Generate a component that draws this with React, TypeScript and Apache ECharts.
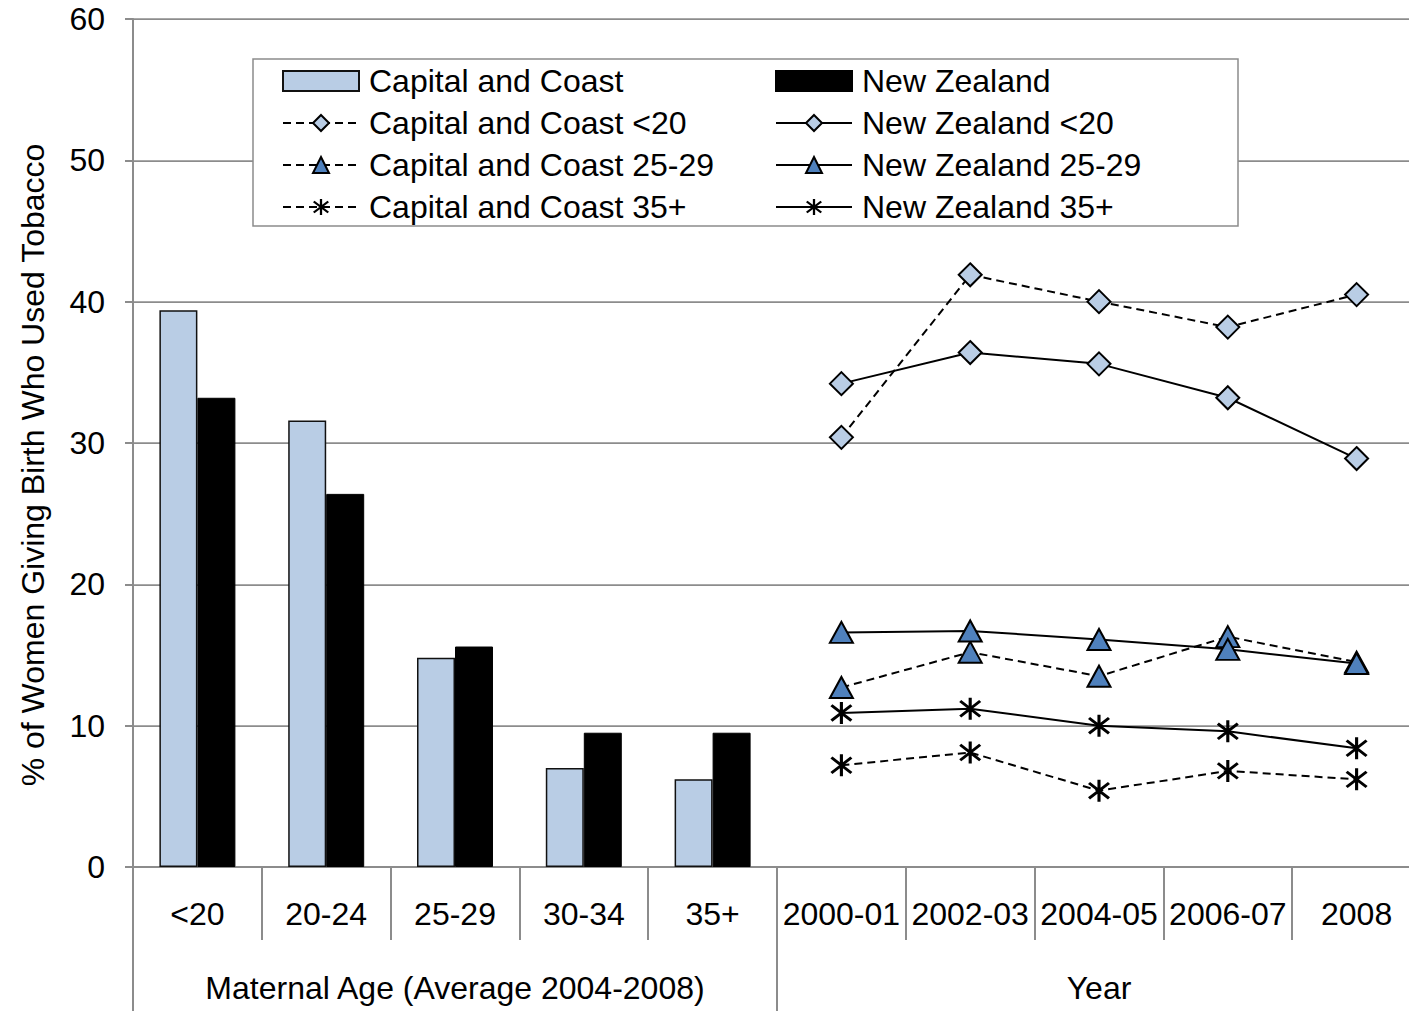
import React, { useEffect, useRef } from "react";
import * as echarts from "echarts";

// Category axis: maternal age groups (2004-2008 average) followed by year groups
const ageGroups = ["<20", "20-24", "25-29", "30-34", "35+"];
const yearGroups = ["2000-01", "2002-03", "2004-05", "2006-07", "2008"];
const categories = [...ageGroups, ...yearGroups];
const sectionLabels = ["Maternal Age (Average 2004-2008)", "Year"];

// Bars: % smoking by maternal age, average 2004-2008
const ccByAge = [39.4, 31.6, 14.8, 7.0, 6.2];
const nzByAge = [33.2, 26.4, 15.6, 9.5, 9.5];

// Lines: % smoking by year for selected age groups
const ccUnder20 = [30.4, 41.9, 40.0, 38.2, 40.5];
const nzUnder20 = [34.2, 36.4, 35.6, 33.2, 28.9];
const cc2529 = [12.7, 15.2, 13.5, 16.3, 14.5];
const nz2529 = [16.6, 16.7, 16.1, 15.4, 14.4];
const cc35plus = [7.2, 8.1, 5.4, 6.8, 6.2];
const nz35plus = [10.9, 11.2, 10.0, 9.6, 8.4];

const yTicks = { min: 0, max: 60, interval: 10 };

const FONT = "'Liberation Sans', Arial, sans-serif";
const GRID_GRAY = "#8c8c8c";
const LIGHT_BLUE = "#b9cde5";
const MID_BLUE = "#4f81bd";

// Plot runs slightly past the visible right edge, so the canvas is wider than the frame
const FRAME_W = 1409;
const FRAME_H = 1011;
const CANVAS_W = 1421;

// Six-armed asterisk marker: one vertical bar plus two diagonals
const asterisk =
  "path://M8.75 0L11.25 0L11.25 20L8.75 20Z M2.82 2.07L18.82 16.07L17.18 17.93L1.18 3.93Z M1.18 16.07L17.18 2.07L18.82 3.93L2.82 17.93Z";

const ageOnly = (vals: number[]) => [...vals, ...yearGroups.map(() => "-")];
const yearOnly = (vals: number[]) => [...ageGroups.map(() => "-"), ...vals];

function lineSeries(
  name: string,
  vals: number[],
  dashed: boolean,
  symbol: string,
  size: number | number[],
  fill: string,
  border: number
) {
  return {
    name,
    type: "line",
    data: yearOnly(vals),
    connectNulls: false,
    symbol,
    symbolSize: size,
    lineStyle: { color: "#000", width: 2, type: dashed ? [8, 5] : "solid" },
    itemStyle: { color: fill, borderColor: "#000", borderWidth: border },
    z: 3,
  };
}

export default function App() {
  const ref = useRef<HTMLDivElement>(null);

  useEffect(() => {
    if (!ref.current) return;
    const chart = echarts.init(ref.current, undefined, { renderer: "svg" });

    const legendCommon = {
      orient: "vertical",
      top: 65,
      padding: 0,
      itemWidth: 76,
      itemHeight: 20,
      itemGap: 10,
      selectedMode: false,
      z: 10,
      textStyle: {
        fontSize: 32,
        lineHeight: 32,
        color: "#000",
        fontFamily: FONT,
        padding: [0, 0, 0, 5],
      },
    };

    chart.setOption({
      animation: false,
      textStyle: { fontFamily: FONT },
      grid: { left: 133, top: 19, right: 0, bottom: 144, containLabel: false },
      legend: [
        {
          ...legendCommon,
          left: 282,
          data: [
            { name: "Capital and Coast", icon: "rect" },
            "Capital and Coast <20",
            "Capital and Coast 25-29",
            "Capital and Coast 35+",
          ],
        },
        {
          ...legendCommon,
          left: 775,
          data: [
            { name: "New Zealand", icon: "rect" },
            "New Zealand <20",
            "New Zealand 25-29",
            "New Zealand 35+",
          ],
        },
      ],
      graphic: [
        {
          type: "rect",
          z: 3,
          shape: { x: 253, y: 59, width: 985, height: 167 },
          style: { fill: "#fff", stroke: GRID_GRAY, lineWidth: 1.5 },
        },
        {
          type: "text",
          x: 33,
          y: 465,
          rotation: Math.PI / 2,
          style: {
            text: "% of Women Giving Birth Who Used Tobacco",
            fontSize: 32,
            fontFamily: FONT,
            fill: "#000",
            align: "center",
            verticalAlign: "middle",
          },
        },
      ],
      xAxis: [
        {
          type: "category",
          data: categories,
          position: "bottom",
          axisLine: { show: true, lineStyle: { color: GRID_GRAY, width: 2 } },
          axisTick: {
            show: true,
            interval: 0,
            length: 73,
            alignWithLabel: false,
            lineStyle: { color: GRID_GRAY, width: 2 },
          },
          axisLabel: { interval: 0, fontSize: 32, color: "#000", margin: 31, fontFamily: FONT },
          splitLine: { show: false },
        },
        {
          type: "category",
          data: sectionLabels,
          position: "bottom",
          axisLine: { show: false },
          axisTick: {
            show: true,
            interval: 0,
            length: 144,
            lineStyle: { color: GRID_GRAY, width: 2 },
          },
          axisLabel: { interval: 0, fontSize: 32, color: "#000", margin: 105, fontFamily: FONT },
          splitLine: { show: false },
        },
      ],
      yAxis: {
        type: "value",
        min: yTicks.min,
        max: yTicks.max,
        interval: yTicks.interval,
        axisLine: { show: true, lineStyle: { color: GRID_GRAY, width: 2 } },
        axisTick: { show: true, length: 8, lineStyle: { color: GRID_GRAY, width: 2 } },
        axisLabel: { fontSize: 32, color: "#000", margin: 28, fontFamily: FONT },
        splitLine: { show: true, lineStyle: { color: GRID_GRAY, width: 1.75 } },
      },
      series: [
        {
          name: "Capital and Coast",
          type: "bar",
          data: ageOnly(ccByAge),
          barGap: "0%",
          barCategoryGap: "41%",
          itemStyle: { color: LIGHT_BLUE, borderColor: "#111", borderWidth: 1.5 },
        },
        {
          name: "New Zealand",
          type: "bar",
          data: ageOnly(nzByAge),
          barGap: "0%",
          barCategoryGap: "41%",
          itemStyle: { color: "#000", borderColor: "#000", borderWidth: 1 },
        },
        lineSeries("Capital and Coast <20", ccUnder20, true, "diamond", 23, LIGHT_BLUE, 2),
        lineSeries("New Zealand <20", nzUnder20, false, "diamond", 23, LIGHT_BLUE, 2),
        lineSeries("Capital and Coast 25-29", cc2529, true, "triangle", [23, 21], MID_BLUE, 2),
        lineSeries("New Zealand 25-29", nz2529, false, "triangle", [23, 21], MID_BLUE, 2),
        lineSeries("Capital and Coast 35+", cc35plus, true, asterisk, 22, "#000", 0),
        lineSeries("New Zealand 35+", nz35plus, false, asterisk, 22, "#000", 0),
      ],
    });

    return () => chart.dispose();
  }, []);

  return (
    <div
      style={{
        position: "absolute",
        left: 0,
        top: 0,
        width: FRAME_W,
        height: FRAME_H,
        overflow: "hidden",
        background: "#fff",
      }}
    >
      <div ref={ref} style={{ width: CANVAS_W, height: FRAME_H }} />
    </div>
  );
}
